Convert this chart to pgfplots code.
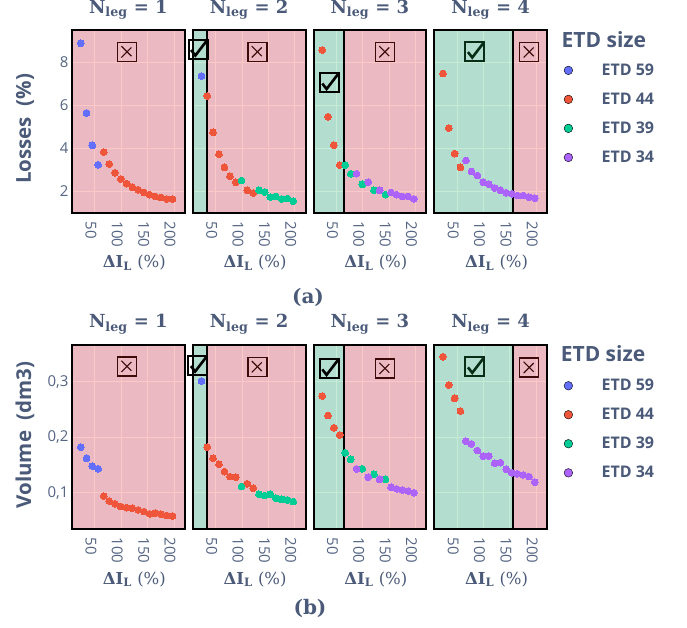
\documentclass[border=0pt]{standalone}
\usepackage[no-math]{fontspec}
\newfontfamily\osans{Open Sans}
\newfontfamily\dser{DejaVu Serif}
\usepackage{pgfplots}
\pgfplotsset{compat=1.18}

\definecolor{plotbg}{RGB}{229,236,246}
\definecolor{redov}{RGB}{249,36,38}
\definecolor{greenov}{RGB}{33,180,94}
\definecolor{etdA}{HTML}{636EFA} % ETD 59
\definecolor{etdB}{HTML}{EF553B} % ETD 44
\definecolor{etdC}{HTML}{00CC96} % ETD 39
\definecolor{etdD}{HTML}{AB63FA} % ETD 34
\definecolor{textc}{RGB}{74,90,120}
\definecolor{tickc}{RGB}{84,100,130}

\pgfplotsset{
  panel/.style={
    scale only axis, width=112.75pt,
    xmin=6.4, xmax=220.3, xtick={50,100,150,200},
    clip=false,
    grid=major, major grid style={white, line width=1pt},
    axis background/.style={fill=plotbg},
    axis line style={black, line width=2pt},
    major tick length=0pt,
    tick label style={font=\osans\fontsize{15}{15}\selectfont, text=tickc,
      /pgf/number format/assume math mode=true},
    xticklabel style={xshift=-4pt, yshift=-5pt, rotate=-90, anchor=west},
    xlabel={{\bfseries ΔI\textsubscript{L}} (\%)},
    xlabel style={at={(axis description cs:0.553,-0.30)}, anchor=base,
      font=\dser\fontsize{16.5}{16.5}\selectfont, text=textc},
    title style={at={(axis description cs:0.5,1.06)}, anchor=base,
      font=\dser\bfseries\fontsize{18}{18}\selectfont, text=textc},
    ylabel style={at={(axis description cs:-0.417,0.5)}, anchor=center,
      font=\osans\bfseries\fontsize{20.5}{20.5}\selectfont, text=textc},
  },
  toprow/.style={height=183pt, ymin=1.0, ymax=9.49, ytick={2,4,6,8}},
  botrow/.style={height=184pt, ymin=0.0346, ymax=0.366, ytick={0.1,0.2,0.3},
    yticklabel style={/pgf/number format/.cd, fixed, precision=1, use comma}},
  nolab/.style={yticklabels={}},
  pt/.style={only marks, mark=*, mark size=3.4pt, color=#1,
    mark options={fill=#1, draw=#1, line width=0pt}, forget plot},
}

% box with a check mark, box with a cross
\newcommand{\chkbox}[1]{%
  \node[draw=black, line width=2pt, minimum size=19pt, inner sep=0pt] (cb) at (#1) {};
  \draw[black, line width=2.6pt] (cb.south west) ++(3.5pt,9.5pt) -- ++(4.3pt,-5.5pt) -- ++(11.5pt,15pt);
}
\newcommand{\xbox}[1]{%
  \node[draw=black, line width=1.3pt, minimum size=19pt, inner sep=0pt] (xb) at (#1) {};
  \draw[black, line width=1.1pt] (xb.south west) ++(4.5pt,4.5pt) -- ++(10pt,10pt);
  \draw[black, line width=1.1pt] (xb.north west) ++(4.5pt,-4.5pt) -- ++(10pt,-10pt);
}

\begin{document}
\begin{tikzpicture}
\useasboundingbox (0pt,0pt) rectangle (687pt,-627pt);

% ---------------- (a) losses ----------------
\begin{axis}[panel, toprow, at={(72pt,-30pt)}, anchor=north west,
  title={N\textsubscript{leg} = 1}, ylabel={Losses\ \ (\%)},
  ylabel style={at={(axis description cs:-0.417,0.46)}}]
\addplot[pt=etdA] coordinates {(23,8.87) (34,5.64) (45,4.14) (56,3.24)};
\addplot[pt=etdB] coordinates {(66.5,3.83) (77,3.27) (88,2.86) (99,2.58) (110,2.36)
  (121,2.19) (132,2.08) (143,1.95) (153.5,1.85) (164,1.77) (175,1.72) (186,1.65) (197,1.65)};
\xbox{rel axis cs:0.488,0.881}
\fill[redov, opacity=0.25] (rel axis cs:0,0) rectangle (rel axis cs:1,1);
\draw[line width=2pt] (rel axis cs:0,0) rectangle (rel axis cs:1,1);
\end{axis}

\begin{axis}[panel, toprow, nolab, at={(192.75pt,-30pt)}, anchor=north west,
  title={N\textsubscript{leg} = 2}]
\addplot[pt=etdA] coordinates {(23,7.35)};
\addplot[pt=etdB] coordinates {(34,6.43) (45,4.74) (56,3.72) (66.5,3.12) (77,2.71)
  (88,2.42) (110,2.05) (121,1.93)};
\addplot[pt=etdC] coordinates {(99,2.51) (132,2.05) (143,1.97) (153.5,1.74) (164,1.77)
  (175,1.65) (186,1.67) (197,1.55)};
\xbox{rel axis cs:0.574,0.881}
\fill[greenov, opacity=0.25] (rel axis cs:0,0) rectangle (axis cs:33,9.49);
\fill[redov, opacity=0.25] (axis cs:33,1.0) rectangle (rel axis cs:1,1);
\draw[line width=1.8pt] (axis cs:33,1.0) -- (axis cs:33,9.49);
\draw[line width=2pt] (rel axis cs:0,0) rectangle (rel axis cs:1,1);
\chkbox{rel axis cs:0.047,0.896}
\end{axis}

\begin{axis}[panel, toprow, nolab, at={(313.5pt,-30pt)}, anchor=north west,
  title={N\textsubscript{leg} = 3}]
\addplot[pt=etdB] coordinates {(23,8.56) (34,5.46) (45,4.14) (56,3.22)};
\addplot[pt=etdC] coordinates {(66.5,3.22) (77,2.82) (99,2.33) (121,2.05) (143,1.85)};
\addplot[pt=etdD] coordinates {(88,2.82) (110,2.43) (132,2.05) (153.5,1.95) (164,1.85)
  (175,1.77) (186,1.77) (197,1.65)};
\xbox{rel axis cs:0.634,0.881}
\fill[greenov, opacity=0.25] (rel axis cs:0,0) rectangle (axis cs:64.8,9.49);
\fill[redov, opacity=0.25] (axis cs:64.8,1.0) rectangle (rel axis cs:1,1);
\draw[line width=1.8pt] (axis cs:64.8,1.0) -- (axis cs:64.8,9.49);
\draw[line width=2pt] (rel axis cs:0,0) rectangle (rel axis cs:1,1);
\chkbox{rel axis cs:0.140,0.713}
\end{axis}

\begin{axis}[panel, toprow, nolab, at={(434.25pt,-30pt)}, anchor=north west,
  title={N\textsubscript{leg} = 4},
  legend style={at={(axis description cs:1.148,0.827)}, anchor=north west,
    draw=none, fill=none, inner sep=0pt, row sep=12pt, text=textc,
    font=\osans\bfseries\fontsize{16}{16}\selectfont,
    /tikz/every odd column/.append style={column sep=26.7pt}},
  legend cell align=left,
  legend image code/.code={\fill[#1] (0pt,0pt) circle (4.3pt);}]
\addlegendimage{fill=etdA} \addlegendentry{ETD 59}
\addlegendimage{fill=etdB} \addlegendentry{ETD 44}
\addlegendimage{fill=etdC} \addlegendentry{ETD 39}
\addlegendimage{fill=etdD} \addlegendentry{ETD 34}
\addplot[pt=etdB] coordinates {(23,7.47) (34,4.94) (45,3.75) (56,3.12)};
\addplot[pt=etdD] coordinates {(66.5,3.44) (77,2.93) (88,2.74) (99,2.43) (110,2.33)
  (121,2.16) (132,2.05) (143,1.94) (153.5,1.89) (164,1.81) (175,1.81) (186,1.73) (197,1.69)};
\chkbox{rel axis cs:0.361,0.885}
\xbox{rel axis cs:0.843,0.881}
\fill[greenov, opacity=0.25] (rel axis cs:0,0) rectangle (axis cs:155.2,9.49);
\fill[redov, opacity=0.25] (axis cs:155.2,1.0) rectangle (rel axis cs:1,1);
\draw[line width=1.8pt] (axis cs:155.2,1.0) -- (axis cs:155.2,9.49);
\draw[line width=2pt] (rel axis cs:0,0) rectangle (rel axis cs:1,1);
\node[font=\osans\bfseries\fontsize{21}{21}\selectfont, text=textc]
  at (rel axis cs:1.505,0.945) {ETD size};
\end{axis}

% ---------------- (b) volume ----------------
\begin{axis}[panel, botrow, at={(72pt,-345pt)}, anchor=north west,
  title={N\textsubscript{leg} = 1}, ylabel={Volume\ \ (dm3)},
  ylabel style={at={(axis description cs:-0.417,0.511)}}]
\addplot[pt=etdA] coordinates {(23,0.182) (34,0.162) (45,0.148) (56,0.143)};
\addplot[pt=etdB] coordinates {(66.5,0.094) (77,0.085) (88,0.080) (99,0.075) (110,0.073)
  (121,0.072) (132,0.069) (143,0.066) (153.5,0.062) (164,0.063) (175,0.061) (186,0.059) (197,0.058)};
\xbox{rel axis cs:0.488,0.884}
\fill[redov, opacity=0.25] (rel axis cs:0,0) rectangle (rel axis cs:1,1);
\draw[line width=2pt] (rel axis cs:0,0) rectangle (rel axis cs:1,1);
\end{axis}

\begin{axis}[panel, botrow, nolab, at={(192.75pt,-345pt)}, anchor=north west,
  title={N\textsubscript{leg} = 2}]
\addplot[pt=etdA] coordinates {(23,0.301)};
\addplot[pt=etdB] coordinates {(34,0.182) (45,0.162) (56,0.151) (66.5,0.138) (77,0.129)
  (88,0.128) (110,0.116) (121,0.108)};
\addplot[pt=etdC] coordinates {(99,0.111) (132,0.097) (143,0.095) (153.5,0.097) (164,0.090)
  (175,0.088) (186,0.087) (197,0.084)};
\xbox{rel axis cs:0.574,0.882}
\fill[greenov, opacity=0.25] (rel axis cs:0,0) rectangle (axis cs:33,0.366);
\fill[redov, opacity=0.25] (axis cs:33,0.0346) rectangle (rel axis cs:1,1);
\draw[line width=1.8pt] (axis cs:33,0.0346) -- (axis cs:33,0.366);
\draw[line width=2pt] (rel axis cs:0,0) rectangle (rel axis cs:1,1);
\chkbox{rel axis cs:0.045,0.891}
\end{axis}

\begin{axis}[panel, botrow, nolab, at={(313.5pt,-345pt)}, anchor=north west,
  title={N\textsubscript{leg} = 3}]
\addplot[pt=etdB] coordinates {(23,0.274) (34,0.239) (45,0.217) (56,0.204)};
\addplot[pt=etdC] coordinates {(66.5,0.172) (77,0.160) (99,0.143) (121,0.133) (143,0.124)};
\addplot[pt=etdD] coordinates {(88,0.143) (110,0.128) (132,0.124) (153.5,0.110) (164,0.107)
  (175,0.105) (186,0.103) (197,0.100)};
\xbox{rel axis cs:0.634,0.873}
\fill[greenov, opacity=0.25] (rel axis cs:0,0) rectangle (axis cs:64.8,0.366);
\fill[redov, opacity=0.25] (axis cs:64.8,0.0346) rectangle (rel axis cs:1,1);
\draw[line width=1.8pt] (axis cs:64.8,0.0346) -- (axis cs:64.8,0.366);
\draw[line width=2pt] (rel axis cs:0,0) rectangle (rel axis cs:1,1);
\chkbox{rel axis cs:0.140,0.873}
\end{axis}

\begin{axis}[panel, botrow, nolab, at={(434.25pt,-345pt)}, anchor=north west,
  title={N\textsubscript{leg} = 4},
  legend style={at={(axis description cs:1.148,0.826)}, anchor=north west,
    draw=none, fill=none, inner sep=0pt, row sep=12pt, text=textc,
    font=\osans\bfseries\fontsize{16}{16}\selectfont,
    /tikz/every odd column/.append style={column sep=26.7pt}},
  legend cell align=left,
  legend image code/.code={\fill[#1] (0pt,0pt) circle (4.3pt);}]
\addlegendimage{fill=etdA} \addlegendentry{ETD 59}
\addlegendimage{fill=etdB} \addlegendentry{ETD 44}
\addlegendimage{fill=etdC} \addlegendentry{ETD 39}
\addlegendimage{fill=etdD} \addlegendentry{ETD 34}
\addplot[pt=etdB] coordinates {(23,0.345) (34,0.294) (45,0.270) (56,0.247)};
\addplot[pt=etdD] coordinates {(66.5,0.193) (77,0.188) (88,0.176) (99,0.166) (110,0.166)
  (121,0.153) (132,0.154) (143,0.142) (153.5,0.136) (164,0.134) (175,0.132) (186,0.129) (197,0.119)};
\chkbox{rel axis cs:0.361,0.884}
\xbox{rel axis cs:0.843,0.878}
\fill[greenov, opacity=0.25] (rel axis cs:0,0) rectangle (axis cs:155.2,0.366);
\fill[redov, opacity=0.25] (axis cs:155.2,0.0346) rectangle (rel axis cs:1,1);
\draw[line width=1.8pt] (axis cs:155.2,0.0346) -- (axis cs:155.2,0.366);
\draw[line width=2pt] (rel axis cs:0,0) rectangle (rel axis cs:1,1);
\node[font=\osans\bfseries\fontsize{21}{21}\selectfont, text=textc]
  at (rel axis cs:1.497,0.951) {ETD size};
\end{axis}

\node[font=\dser\bfseries\fontsize{20}{20}\selectfont, text=textc] at (308pt,-297pt) {(a)};
\node[font=\dser\bfseries\fontsize{20}{20}\selectfont, text=textc] at (310pt,-608pt) {(b)};
\end{tikzpicture}
\end{document}
